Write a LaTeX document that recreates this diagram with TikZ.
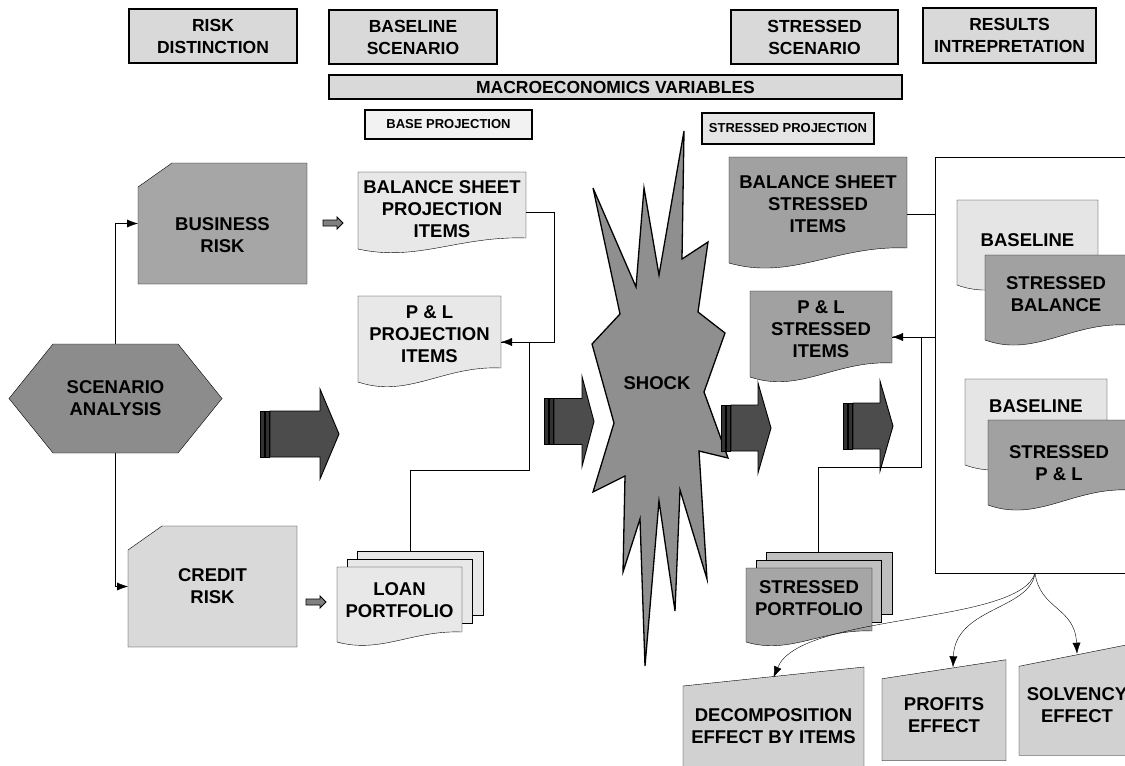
\documentclass[tikz,border=0pt]{standalone}
\usepackage{fontspec}
\setmainfont{Liberation Sans}
\usetikzlibrary{arrows.meta,calc,backgrounds}

% document sheet with a wavy bottom, drawn round a named node
\newcommand{\docshape}[4][0]{%
  \filldraw[fill=#3] (#2.north west) -- (#2.north east) -- ($(#2.south east)+(0,#1)$)
    .. controls ($(#2.south west)!0.6!(#2.south east)+(0,#1-0.2*#4)$)
    and ($(#2.south west)!0.35!(#2.south east)+(0,#1+2.2*#4)$)
    .. ($(#2.south west)+(0,#1+#4)$) -- cycle;}
% box with a slanted top edge
\newcommand{\slantbox}[3]{%
  \filldraw[fill=#2] ($(#1.north west)+(0,#3)$) -- ($(#1.north east)+(0,-#3)$)
    -- (#1.south east) -- (#1.south west) -- cycle;}
% big block arrow with two bars at its tail
\newcommand{\stripearrow}[4]{%
  \filldraw[fill=black!80, line width=0.9pt] (#1,#2-23) rectangle (#1+4,#2+23);
  \filldraw[fill=black!80, line width=0.9pt] (#1+5,#2-23) rectangle (#1+9,#2+23);
  \filldraw[fill=black!70, line width=0.9pt] (#1+10,#2-23) -- (#3,#2-23) -- (#3,#2-45)
    -- (#4,#2) -- (#3,#2+45) -- (#3,#2+23) -- (#1+10,#2+23) -- cycle;}
\newcommand{\smallarrow}[2]{%
  \filldraw[fill=black!50, line width=0.9pt] (#1,#2-3) -- (#1+14,#2-3) -- (#1+14,#2-6)
    -- (#1+20,#2) -- (#1+14,#2+6) -- (#1+14,#2+3) -- (#1,#2+3) -- cycle;}

\begin{document}
\begin{tikzpicture}[x=1pt, y=-1pt, line width=1.3pt, >={Latex[length=11pt,width=8pt]},
    hdr/.style={draw, fill=black!15, align=center, inner sep=0pt, outer sep=0pt,
      font=\bfseries\fontsize{17.5}{22}\selectfont},
    proj/.style={draw, inner sep=0pt, outer sep=0pt, font=\bfseries\fontsize{13}{15}\selectfont},
    lbl/.style={align=center, inner sep=0pt, outer sep=0pt, font=\bfseries\fontsize{18.5}{22}\selectfont},
    sheet/.style={draw, inner sep=0pt, outer sep=0pt}]
	\useasboundingbox (0,0) rectangle (1125,766);
	\clip (0,0) rectangle (1125,766);

	% column headers
	\node[hdr, minimum width=168, minimum height=54] (riskd) at (213,36) {RISK\\DISTINCTION};
	\node[hdr, minimum width=168, minimum height=54] (basesc) at (413,37) {BASELINE\\SCENARIO};
	\node[hdr, minimum width=167, minimum height=54] (strsc) at (814.5,37) {STRESSED\\SCENARIO};
	\node[hdr, minimum width=173, minimum height=55] (resint) at (1009.5,35.5) {RESULTS\\INTREPRETATION};
	\node[hdr, minimum width=573, minimum height=24] (macro) at (615.5,87) {MACROECONOMICS VARIABLES};
	\node[proj, fill=black!5, minimum width=167, minimum height=29] (baseproj) at (448.5,124.5) {BASE PROJECTION};
	\node[proj, fill=black!10, minimum width=172, minimum height=31] (strproj) at (788,128.5) {STRESSED PROJECTION};

	% risks
	\node[lbl, minimum width=213, minimum height=109] (scen) at (115.5,398.5) {SCENARIO\\ANALYSIS};
	\node[lbl, minimum width=169, minimum height=97] (bus) at (222.5,235.5) {BUSINESS\\RISK};
	\node[lbl, minimum width=169, minimum height=121] (cred) at (212.5,586.5) {CREDIT\\RISK};

	% baseline items
	\node[lbl, minimum width=168, minimum height=75] (bsproj) at (442,209.5) {BALANCE SHEET\\PROJECTION\\ITEMS};
	\node[lbl, minimum width=143, minimum height=76] (plproj) at (429.5,334) {P \& L\\PROJECTION\\ITEMS};
	\node[lbl, minimum width=125, minimum height=66] (loan) at (399.5,600) {LOAN\\PORTFOLIO};

	% shock
	\filldraw[fill=black!44] (684,131) -- (682,259) -- (708,242) -- (698,312) -- (725,333) -- (704,392)
		-- (728,458) -- (699,451) -- (707,579) -- (680,490) -- (675,611) -- (659,501) -- (645,666)
		-- (640,519) -- (623,572) -- (625,476) -- (593,492) -- (614,423) -- (592,344) -- (620,314)
		-- (593,188) -- (636,287) -- (644,188) -- (659,275) -- cycle;
	\node[lbl] (shock) at (657,383) {SHOCK};

	% stressed items
	\node[lbl, minimum width=178, minimum height=94] (bsstr) at (818,204) {BALANCE SHEET\\STRESSED\\ITEMS};
	\node[lbl, minimum width=142, minimum height=76] (plstr) at (821,329) {P \& L\\STRESSED\\ITEMS};
	\node[lbl, minimum width=126, minimum height=61] (sport) at (809,598.5) {STRESSED\\PORTFOLIO};

	% results
	\node[lbl, minimum width=141, minimum height=80] (base1) at (1027.5,240) {BASELINE};
	\node[lbl, minimum width=142, minimum height=78] (strbal) at (1056,294) {STRESSED\\BALANCE};
	\node[lbl, minimum width=142, minimum height=54] (base2) at (1036,406) {BASELINE};
	\node[lbl, minimum width=142, minimum height=86] (strpl) at (1059,463) {STRESSED\\P \& L};

	% effects
	\node[lbl, minimum width=181, minimum height=99] (dec) at (773.5,726) {DECOMPOSITION\\EFFECT BY ITEMS};
	\node[lbl, minimum width=124, minimum height=91.5] (prof) at (944,715) {PROFITS\\EFFECT};
	\node[lbl, minimum width=116, minimum height=100.5] (solv) at (1077,705) {SOLVENCY\\EFFECT};

	\begin{pgfonlayer}{background}
		\node[sheet, fill=white, minimum width=200, minimum height=416] (resbox) at (1035,365) {};
		\filldraw[fill=black!45] (scen.west) -- ($(scen.north west)+(44,0)$) -- ($(scen.north east)+(-44,0)$)
			-- (scen.east) -- ($(scen.south east)+(-44,0)$) -- ($(scen.south west)+(44,0)$) -- cycle;
		\filldraw[fill=black!35] (bus.north west) -- ($(bus.north west)+(34,-24)$) -- ($(bus.north east)+(0,-24)$)
			-- (bus.south east) -- (bus.south west) -- cycle;
		\filldraw[fill=black!15] ($(cred.north west)+(0,24)$) -- ($(cred.north west)+(34,0)$) -- (cred.north east)
			-- (cred.south east) -- (cred.south west) -- cycle;
		\docshape[-9]{bsproj}{black!9}{11}
		\docshape[-4]{plproj}{black!9}{14}
		\node[sheet, fill=black!9, minimum width=126, minimum height=64] (loanb) at (420,583) {};
		\node[sheet, fill=black!9, minimum width=125, minimum height=64] (loanm) at (409.5,591) {};
		\docshape[-1]{loan}{black!9}{10}
		\docshape[-3]{bsstr}{black!37}{15}
		\docshape[-4]{plstr}{black!37}{14}
		\node[sheet, fill=black!25, minimum width=126, minimum height=62] (spb) at (829,583) {};
		\node[sheet, fill=black!25, minimum width=125, minimum height=62] (spm) at (818.5,591) {};
		\docshape[2]{sport}{black!35}{11}
		\docshape[-10]{base1}{black!10}{15}
		\docshape[-8]{strbal}{black!37}{15}
		\docshape[17]{base2}{black!10}{15}
		\docshape[-16]{strpl}{black!37}{15}
		\slantbox{dec}{black!18}{9.5}
		\slantbox{prof}{black!18}{9.5}
		\slantbox{solv}{black!18}{11.5}
	\end{pgfonlayer}

	% block arrows
	\smallarrow{323}{223}
	\smallarrow{306}{602}
	\stripearrow{260}{434}{320}{339}
	\stripearrow{544}{421.5}{582}{594}
	\stripearrow{721}{428}{758}{771}
	\stripearrow{843}{426}{880}{893}

	% connectors
	\draw[->] (scen.north) |- ([yshift=12pt]bus.west);
	\draw[->] (scen.south) |- (cred.west);
	\draw[->] ([yshift=-3pt]bsproj.east) -- ++(28,0) |- ([yshift=-8pt]plproj.east);
	\coordinate (lj) at (529,470);
	\draw ([xshift=-10pt]loanb.north) |- (lj) |- ([yshift=-8pt]plproj.east);
	\draw ([yshift=-10pt]bsstr.east) -- ++(28,0);
	\draw[<-] ([yshift=-8pt]plstr.east) -- ++(43,0);
	\coordinate (sj) at (921,467);
	\draw ([xshift=-11pt]spb.north) |- (sj) |- ([yshift=-8pt]plstr.east);
	\draw[->] (resbox.south) .. controls +(-15,52) and +(27,-65) .. ([yshift=-1pt]dec.north);
	\draw[->] (resbox.south) .. controls +(-5,37) and +(2,-60) .. ([xshift=9pt,yshift=2pt]prof.north);
	\draw[->] (resbox.south) .. controls +(5,37) and +(-2,-47) .. ([yshift=1pt]solv.north);
\end{tikzpicture}
\end{document}
